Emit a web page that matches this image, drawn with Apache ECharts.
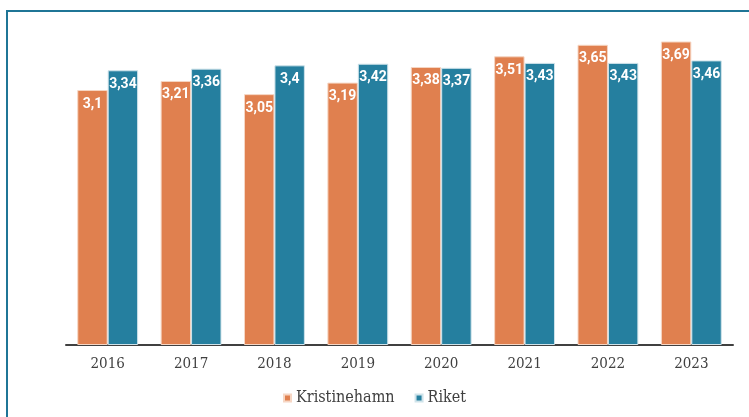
<!DOCTYPE html>
<html><head><meta charset="utf-8">
<script src="https://cdn.jsdelivr.net/npm/echarts@6/dist/echarts.min.js"></script>
<style>
html,body{margin:0;padding:0;background:#fff;overflow:hidden}
#frame{position:absolute;left:6px;top:10px;width:800px;height:500px;border:2px solid #1f7596;box-sizing:border-box}
#c{position:absolute;left:0;top:0;width:749px;height:417px}
</style></head>
<body>
<div id="frame"></div>
<div id="c"></div>
<script>
const years = ['2016','2017','2018','2019','2020','2021','2022','2023'];
const kristinehamn = [3.1, 3.21, 3.05, 3.19, 3.38, 3.51, 3.65, 3.69];
const riket = [3.34, 3.36, 3.4, 3.42, 3.37, 3.43, 3.43, 3.46];
const seriesNames = ['Kristinehamn', 'Riket'];

const font = '"DejaVu Serif Condensed", "DejaVu Serif", serif';
const lblFont = 'Roboto, sans-serif';
const chart = echarts.init(document.getElementById('c'));
const fmt = p => String(p.value).replace('.', ',');
const lbl = {show:true, position:'insideTop', distance:7, color:'#fff', fontFamily:lblFont, fontSize:14, fontWeight:'bold', formatter:fmt};
chart.setOption({
  animation:false,
  grid:{left:66, right:16, top:16, bottom:72, containLabel:false},
  legend:{bottom:6, left:'center', itemWidth:7, itemHeight:7, itemGap:20, icon:'rect',
    textStyle:{fontFamily:font, fontSize:16, color:'#404040'}, data:seriesNames},
  xAxis:{type:'category', data:years,
    axisLine:{lineStyle:{color:'#404040', width:2}}, axisTick:{show:false},
    axisLabel:{fontFamily:font, fontSize:15, color:'#404040', margin:12}},
  yAxis:{type:'value', min:0, max:4, show:false, splitLine:{show:false}},
  series:[
    {name:seriesNames[0], type:'bar', data:kristinehamn, barGap:'0%', barCategoryGap:'27%',
      itemStyle:{color:'#e0804f', borderColor:'#f6d6c4', borderWidth:1}, label:lbl},
    {name:seriesNames[1], type:'bar', data:riket,
      itemStyle:{color:'#257f9f', borderColor:'#cfe3ea', borderWidth:1}, label:lbl}
  ]
});
</script>
</body></html>
